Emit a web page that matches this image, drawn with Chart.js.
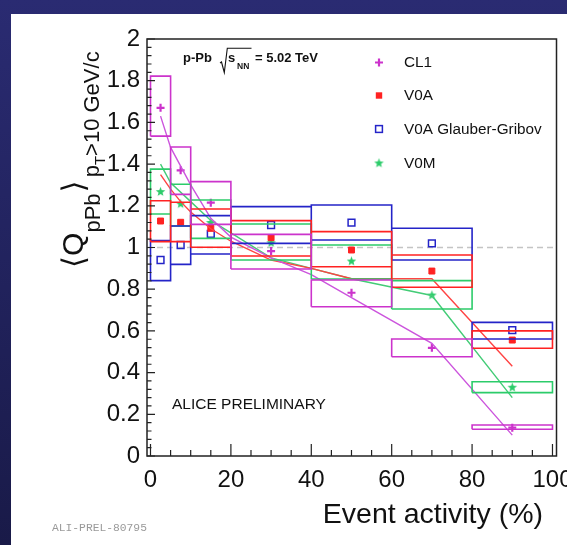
<!DOCTYPE html>
<html>
<head>
<meta charset="utf-8">
<script src="https://cdn.jsdelivr.net/npm/chart.js@4.4.1/dist/chart.umd.min.js"></script>
<style>
  html, body { margin: 0; padding: 0; background: #fff; }
  canvas { display: block; }
</style>
</head>
<body>
<canvas id="myChart" width="567" height="545"></canvas>
<script>
// bins in event activity (%)
const binLo  = [0, 5, 10, 20, 40, 60, 80];
const binHi  = [5, 10, 20, 40, 60, 80, 100];
const binMid = [2.5, 7.5, 15, 30, 50, 70, 90];

// CL1
const cl1    = [1.67, 1.37, 1.215, 0.983, 0.783, 0.519, 0.136];
const cl1Lo  = [1.534, 1.255, 1.111, 0.897, 0.716, 0.476, 0.128];
const cl1Hi  = [1.822, 1.482, 1.316, 1.063, 0.844, 0.561, 0.149];
// V0A
const v0a    = [1.127, 1.121, 1.092, 1.047, 0.988, 0.887, 0.556];
const v0aLo  = [1.028, 1.028, 1.001, 0.959, 0.908, 0.809, 0.517];
const v0aHi  = [1.224, 1.217, 1.185, 1.129, 1.076, 0.964, 0.600];
// V0A Glauber-Gribov
const v0gg   = [0.940, 1.012, 1.065, 1.108, 1.119, 1.020, 0.604];
const v0ggLo = [0.841, 0.919, 0.969, 1.020, 1.036, 0.940, 0.561];
const v0ggHi = [1.033, 1.103, 1.153, 1.196, 1.204, 1.092, 0.641];
// V0M
const v0m    = [1.268, 1.210, 1.120, 1.023, 0.935, 0.772, 0.330];
const v0mLo  = [1.161, 1.103, 1.044, 0.940, 0.849, 0.705, 0.304];
const v0mHi  = [1.376, 1.303, 1.228, 1.113, 1.012, 0.841, 0.356];

// model curves
const cl1FitX = [2.5, 5, 10, 15, 20, 30, 40, 50, 70, 90];
const cl1FitY = [1.63, 1.48, 1.30, 1.14, 1.05, 0.95, 0.87, 0.76, 0.54, 0.10];
const v0aFitX = [2.5, 5, 7.5, 10, 15, 20, 30, 40, 50, 70, 90];
const v0aFitY = [1.35, 1.28, 1.22, 1.17, 1.09, 1.03, 0.94, 0.90, 0.85, 0.85, 0.43];
const v0mFitX = [2.5, 5, 10, 15, 20, 30, 40, 50, 70, 90];
const v0mFitY = [1.40, 1.31, 1.22, 1.13, 1.07, 0.95, 0.90, 0.85, 0.77, 0.28];

const xTickLabels = [0, 20, 40, 60, 80, 100];
const legendNames = ['CL1', 'V0A', 'V0A Glauber-Gribov', 'V0M'];

const cMag = '#cc33cc', cRed = '#ff2222', cBlue = '#2424c8', cGreen = '#2ccc6a';
const FONT = '"Liberation Sans", Arial, Helvetica, sans-serif';

// filled five-point star used as marker
const starImg = document.createElement('canvas');
starImg.width = 11; starImg.height = 11;
(function () {
  const c = starImg.getContext('2d');
  c.fillStyle = cGreen;
  c.beginPath();
  for (let k = 0; k < 10; k++) {
    const r = k % 2 === 0 ? 5 : 2.1, t = -Math.PI / 2 + k * Math.PI / 5;
    c.lineTo(5.5 + r * Math.cos(t), 5.8 + r * Math.sin(t));
  }
  c.closePath();
  c.fill();
})();

// rectangles for systematic boxes, separated by gaps
function boxes(lo, hi) {
  const pts = [];
  binLo.forEach((x0, i) => {
    const x1 = binHi[i];
    pts.push({x: x0, y: lo[i]}, {x: x1, y: lo[i]}, {x: x1, y: hi[i]},
             {x: x0, y: hi[i]}, {x: x0, y: lo[i]}, {x: x0, y: null});
  });
  return pts;
}
const pairs = (xs, ys) => xs.map((x, i) => ({x: x, y: ys[i]}));

function boxSet(lo, hi, color) {
  return { data: boxes(lo, hi), showLine: true, borderColor: color, borderWidth: 1.6,
           pointRadius: 0, spanGaps: false, borderJoinStyle: 'miter', fill: false };
}
function fitSet(xs, ys, color) {
  return { data: pairs(xs, ys), showLine: true, borderColor: color, borderWidth: 1.4,
           pointRadius: 0, fill: false, tension: 0 };
}
function markSet(vals, style, color, fillColor, r, bw) {
  return { data: pairs(binMid, vals), showLine: false, pointStyle: style, pointRadius: r,
           borderColor: color, backgroundColor: fillColor, borderWidth: bw };
}

const datasets = [
  boxSet(cl1Lo, cl1Hi, cMag),
  boxSet(v0aLo, v0aHi, cRed),
  boxSet(v0ggLo, v0ggHi, cBlue),
  boxSet(v0mLo, v0mHi, cGreen),
  fitSet(cl1FitX, cl1FitY, '#cc55dd'),
  fitSet(v0aFitX, v0aFitY, '#ff4444'),
  fitSet(v0mFitX, v0mFitY, '#44cc77'),
  markSet(cl1, 'cross', cMag, cMag, 4, 2.2),
  markSet(v0a, 'rect', cRed, cRed, 4.2, 1),
  markSet(v0gg, 'rect', cBlue, 'rgba(0,0,0,0)', 4.8, 1.5),
  markSet(v0m, starImg, cGreen, cGreen, 5, 1)
];

// page background (slide frame)
const backdrop = {
  id: 'backdrop',
  beforeDraw(chart) {
    const ctx = chart.ctx;
    const g = ctx.createLinearGradient(0, 0, 0, 545);
    g.addColorStop(0, '#2a2b72');
    g.addColorStop(1, '#191a48');
    ctx.save();
    ctx.fillStyle = g;
    ctx.fillRect(0, 0, 567, 545);
    ctx.fillStyle = '#fff';
    ctx.fillRect(11, 14, 556, 531);
    ctx.restore();
  },
  beforeDatasetsDraw(chart) {
    const ctx = chart.ctx, a = chart.chartArea, y = chart.scales.y.getPixelForValue(1);
    ctx.save();
    ctx.strokeStyle = '#c4c4c4';
    ctx.lineWidth = 1.5;
    ctx.setLineDash([6, 4]);
    ctx.beginPath(); ctx.moveTo(a.left, y); ctx.lineTo(a.right, y); ctx.stroke();
    ctx.restore();
  }
};

function marker(ctx, i, x, y) {
  ctx.save();
  if (i === 0) {
    ctx.strokeStyle = cMag; ctx.lineWidth = 2.2;
    ctx.beginPath(); ctx.moveTo(x - 4, y); ctx.lineTo(x + 4, y); ctx.moveTo(x, y - 4); ctx.lineTo(x, y + 4); ctx.stroke();
  } else if (i === 1) {
    ctx.fillStyle = cRed; ctx.fillRect(x - 3.2, y - 3.2, 6.4, 6.4);
  } else if (i === 2) {
    ctx.strokeStyle = cBlue; ctx.lineWidth = 1.5; ctx.strokeRect(x - 3.4, y - 3.4, 6.8, 6.8);
  } else {
    ctx.drawImage(starImg, x - 5.5, y - 5.5);
  }
  ctx.restore();
}

const decor = {
  id: 'decor',
  afterDraw(chart) {
    const ctx = chart.ctx, a = chart.chartArea, sx = chart.scales.x, sy = chart.scales.y;
    ctx.save();
    // frame
    ctx.strokeStyle = '#222';
    ctx.lineWidth = 1.5;
    ctx.strokeRect(a.left, a.top, a.right - a.left, a.bottom - a.top);
    // inward ticks
    ctx.lineWidth = 1.2;
    ctx.beginPath();
    for (let v = 0; v <= 100; v += 5) {
      const px = sx.getPixelForValue(v), len = v % 20 === 0 ? 12 : 6;
      ctx.moveTo(px, a.bottom); ctx.lineTo(px, a.bottom - len);
    }
    for (let k = 0; k <= 50; k++) {
      const py = sy.getPixelForValue(k * 0.04), len = k % 5 === 0 ? 8 : 4.5;
      ctx.moveTo(a.left, py); ctx.lineTo(a.left + len, py);
    }
    ctx.stroke();

    // legend
    ctx.fillStyle = '#111';
    ctx.font = '15.3px ' + FONT;
    ctx.textBaseline = 'middle';
    const rows = [62.5, 95.5, 129, 163];
    legendNames.forEach((name, i) => {
      marker(ctx, i, 379, rows[i]);
      ctx.fillText(name, 404, rows[i] + 0.5);
    });

    // energy label
    ctx.textBaseline = 'alphabetic';
    ctx.font = 'bold 13px ' + FONT;
    ctx.fillText('p-Pb', 183, 61.5);
    ctx.fillText('s', 228, 61.5);
    ctx.fillText('= 5.02 TeV', 255, 61.5);
    ctx.font = 'bold 8.5px ' + FONT;
    ctx.fillText('NN', 237, 68.5);
    ctx.strokeStyle = '#111';
    ctx.lineWidth = 1.1;
    ctx.beginPath();
    ctx.moveTo(220, 63); ctx.lineTo(221.5, 62); ctx.lineTo(224.3, 72.5); ctx.lineTo(227.3, 48.3); ctx.lineTo(251.5, 48.3);
    ctx.stroke();

    ctx.font = '15.5px ' + FONT;
    ctx.fillText('ALICE PRELIMINARY', 172, 409);

    // x title
    ctx.font = '28.5px ' + FONT;
    ctx.textAlign = 'right';
    ctx.fillText('Event activity (%)', 543, 523);
    ctx.textAlign = 'left';

    // figure id
    ctx.fillStyle = '#9a9a9a';
    ctx.font = '11.3px "Liberation Mono", "DejaVu Sans Mono", monospace';
    ctx.fillText('ALI-PREL-80795', 52, 531);

    // y title, rotated
    ctx.fillStyle = '#111';
    ctx.rotate(-Math.PI / 2);
    let u = -268;
    const put = (txt, font, base) => { ctx.font = font; ctx.fillText(txt, u, base); u += ctx.measureText(txt).width; };
    const big = '30px ' + FONT, sub = '22px ' + FONT, sub2 = '15px ' + FONT;
    put('\u27E8', '31px "DejaVu Sans", sans-serif', 84);
    put('Q', big, 83);
    put('pPb', sub, 100);
    u += 1;
    put('\u27E9', '31px "DejaVu Sans", sans-serif', 84);
    u += 3;
    put('p', sub, 99);
    put('T', sub2, 105);
    put('>10 GeV/c', sub, 99);
    ctx.restore();
  }
};

const config = {
  type: 'scatter',
  data: { datasets: datasets },
  options: {
    responsive: false,
    animation: false,
    devicePixelRatio: 1,
    events: [],
    layout: { padding: { top: 39, right: 10.5, bottom: 0, left: 0 } },
    plugins: { legend: { display: false }, tooltip: { enabled: false } },
    scales: {
      x: {
        type: 'linear', min: -0.87, max: 101.0,
        grid: { display: false, drawTicks: false },
        border: { display: false },
        afterBuildTicks: s => { s.ticks = xTickLabels.map(v => ({ value: v })); },
        afterFit: s => { s.height = 89; s.paddingLeft = 0; s.paddingRight = 0; },
        ticks: { color: '#111', font: { size: 24, family: FONT }, padding: 10, maxRotation: 0, autoSkip: false,
                 callback: v => String(v) }
      },
      y: {
        type: 'linear', min: 0, max: 2,
        grid: { display: false, drawTicks: false },
        border: { display: false },
        afterFit: s => { s.width = 147; s.paddingTop = 0; s.paddingBottom = 0; },
        ticks: { stepSize: 0.2, color: '#111', font: { size: 24, family: FONT }, padding: 7,
                 callback: v => String(Math.round(v * 10) / 10) }
      }
    }
  },
  plugins: [backdrop, decor]
};

const myChart = new Chart(document.getElementById('myChart'), config);
</script>
</body>
</html>
